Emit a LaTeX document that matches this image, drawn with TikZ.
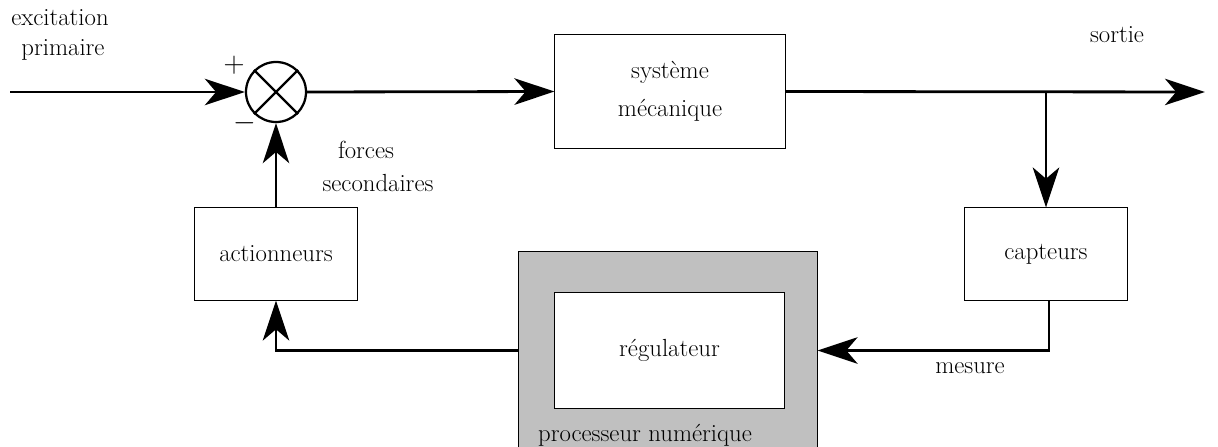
\documentclass[tikz,border=0pt]{standalone}
\usetikzlibrary{arrows.meta}
\definecolor{procgray}{RGB}{192,192,192}
\begin{document}
\begin{tikzpicture}[x=0.025cm,y=-0.025cm,
  every node/.style={font=\fontsize{17.6}{27}\selectfont},
  block/.style={draw,line width=0.7pt,inner sep=0pt,align=center},
  sig/.style={line width=2pt},
  tip/.style={-{Stealth[length=1cm,width=0.66cm,inset=0.28cm]}},
  lbl/.style={inner sep=0pt,align=center},
  sign/.style={inner sep=0pt,font=\fontsize{22}{26}\selectfont}]
\useasboundingbox (0,0) rectangle (1218,447);
\begin{scope}
\clip (0,0) rectangle (1218,447);
% digital processor (extends past the lower edge)
\node[block,fill=procgray,minimum width=7.45cm,minimum height=5cm] (proc) at (668,352) {};
\end{scope}
\node[block,fill=white,minimum width=5.725cm,minimum height=2.875cm] (reg) at (669.5,350.5) {régulateur};
\node[lbl] (proclbl) at (645,435) {processeur numérique};

% blocks
\node[block,minimum width=5.75cm,minimum height=2.85cm] (sys) at (670,91.5) {système\\mécanique};
\node[block,minimum width=4.05cm,minimum height=2.3cm] (cap) at (1046,254) {capteurs};
\node[block,minimum width=4.05cm,minimum height=2.3cm] (act) at (276,254) {actionneurs};

% summing junction
\node[draw,circle,line width=1.6pt,minimum size=1.5cm,inner sep=0pt] (sum) at (276,92) {};
\draw[line width=1.6pt] (sum.north west) -- (sum.south east)
                        (sum.north east) -- (sum.south west);

% labels
\node[lbl] (exc) at (60,18) {excitation};
\node[lbl] (prim) at (63,50) {primaire};
\node[sign] (plus) at (234,65) {$+$};
\node[sign] (minus) at (245,123) {$-$};
\node[lbl] (forces) at (366,150) {forces};
\node[lbl] (sec) at (378,183) {secondaires};
\node[lbl] (sortie) at (1117,35) {sortie};
\node[lbl] (mesure) at (970,368) {mesure};

% signal paths
\coordinate (in) at (10,92);
\coordinate (out) at (1205,92);
\coordinate (br) at (1046,92);
\coordinate (capout) at (1049,300);
\draw[sig,tip] (in) -- (sum.west);
\draw[sig,tip] (sum.east) -- (sys.west);
\draw[sig,tip] (sys.east) -- (out);
\draw[sig,tip] (br) -- (cap.north);
\draw[sig,tip] (capout) |- (proc.east |- reg.center);
\draw[sig,tip] (proc.west |- reg.center) -| (act.south);
\draw[sig,tip] (act.north) -- (sum.south);
\end{tikzpicture}
\end{document}
